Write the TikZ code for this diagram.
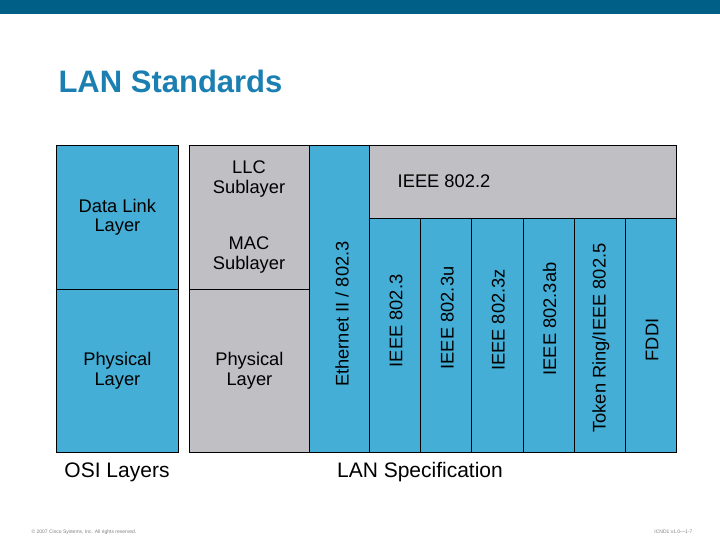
\documentclass[tikz,border=0pt]{standalone}
\usepackage{fontspec}
\setmainfont{Liberation Sans}
\definecolor{band}{HTML}{005F86}
\definecolor{ttl}{HTML}{1B7FB2}
\definecolor{bl}{HTML}{45AED6}
\definecolor{gr}{HTML}{C0BFC4}
\begin{document}
\begin{tikzpicture}[x=1pt,y=-1pt,
 cell/.style={draw=black,line width=0.8pt,inner sep=0pt,anchor=north west,font=\fontsize{18.3}{19.5}\selectfont,align=center},
 bcell/.style={cell,fill=bl},gcell/.style={cell,fill=gr},
 vt/.style={rotate=90,font=\fontsize{18.3}{19.5}\selectfont}]
\useasboundingbox (0,0) rectangle (720,540);
\fill[band] (0,0) rectangle (720,14);
\node[anchor=west,text=ttl,font=\fontsize{31}{33}\selectfont\bfseries] (title) at (55,81) {LAN Standards};
% OSI
\node[bcell,minimum width=122pt,minimum height=144pt] (dl) at (56,145) {Data Link\\Layer};
\node[bcell,minimum width=122pt,minimum height=163pt] (ph) at (56,289) {Physical\\Layer};
% gray column
\node[gcell,minimum width=120pt,minimum height=144pt] (llcmac) at (189,145) {};
\node (llc) at (249,179) [font=\fontsize{18.3}{19.5}\selectfont,align=center] {LLC\\Sublayer};
\node (mac) at (249,255) [font=\fontsize{18.3}{19.5}\selectfont,align=center] {MAC\\Sublayer};
\node[gcell,minimum width=120pt,minimum height=163pt] (gph) at (189,289) {Physical\\Layer};
\node[bcell,minimum width=60pt,minimum height=307pt] (eth) at (309,145) {};
\node[vt] (ethl) at (342,314) {Ethernet II / 802.3};
\node[gcell,minimum width=307pt,minimum height=73pt] (i8022) at (369,145) {};
\node[font=\fontsize{18.3}{19.5}\selectfont] (i8022l) at (444,181) {IEEE 802.2};
\foreach \i/\t/\yy in {0/{IEEE 802.3}/321,1/{IEEE 802.3u}/318,2/{IEEE 802.3z}/320,3/{IEEE 802.3ab}/319,4/{Token Ring/IEEE 802.5}/338,5/{FDDI}/340}{
 \node[bcell,minimum width=51.2pt,minimum height=234pt] (c\i) at (369+51.2*\i,218) {};
 \node[vt] (l\i) at (396+51.2*\i,\yy) {\t};
}
\node[font=\fontsize{21}{23}\selectfont] (osi) at (117,472) {OSI Layers};
\node[font=\fontsize{21}{23}\selectfont] (lan) at (420,472) {LAN Specification};
\node[anchor=west,font=\fontsize{5}{6}\selectfont,text=gray] (copy) at (28,532) {© 2007 Cisco Systems, Inc. All rights reserved.};
\node[anchor=east,font=\fontsize{5}{6}\selectfont,text=gray] (pg) at (696,532) {ICND1 v1.0—1-7};
\end{tikzpicture}
\end{document}
